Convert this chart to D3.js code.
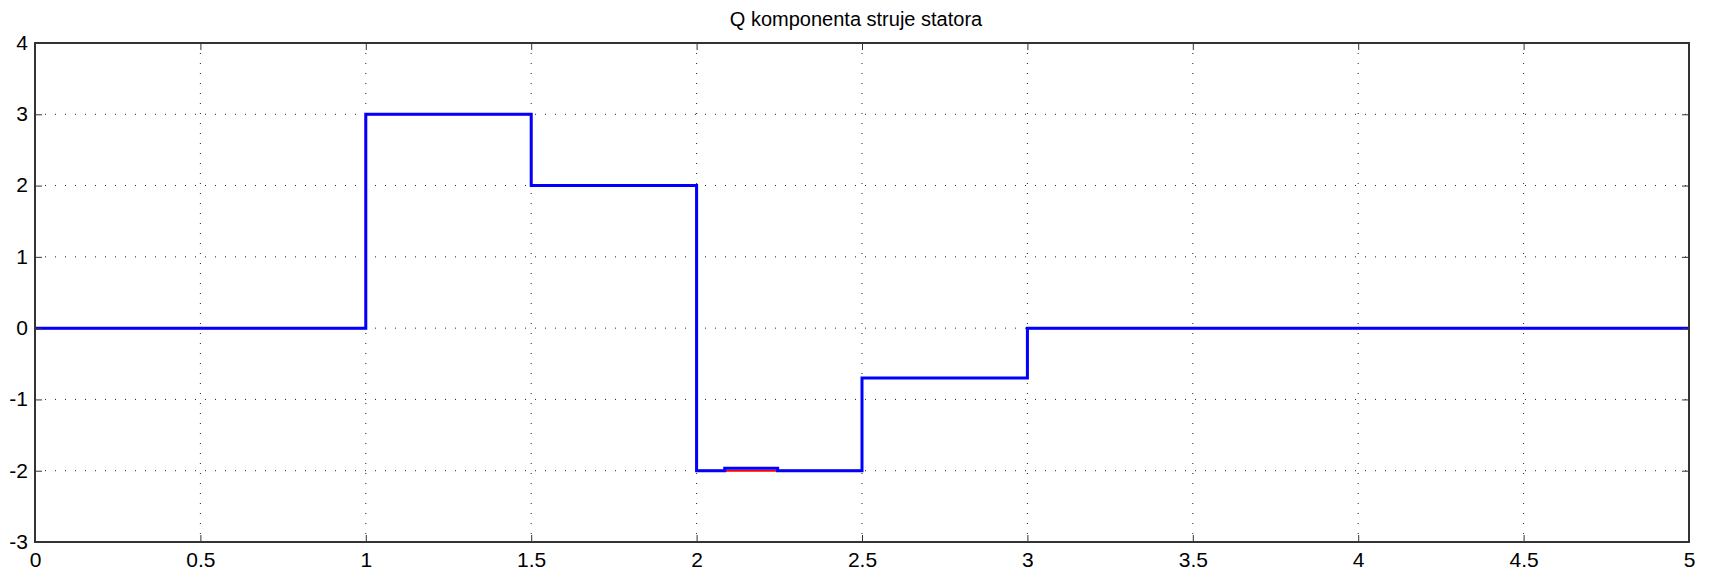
<!DOCTYPE html>
<html>
<head>
<meta charset="utf-8">
<script src="https://cdn.jsdelivr.net/npm/d3@7"></script>
<style>
  body { margin: 0; background: #fff; }
  text { font-family: "Liberation Sans", Arial, sans-serif; fill: #000; }
</style>
</head>
<body>
<div id="chart"></div>
<script>
// reference signal (red) and measured signal (blue), step-wise
var refTime = [0, 1, 1.5, 2, 2.5, 3, 5];
var refQ = [0, 3, 2, -2, -0.7, 0, 0];
var measTime = [0, 1, 1.5, 2, 2.085, 2.245, 2.5, 3, 5];
var measQ = [0, 3, 2, -2, -1.965, -2, -0.7, 0, 0];

var xTicks = [0, 0.5, 1, 1.5, 2, 2.5, 3, 3.5, 4, 4.5, 5];
var yTicks = [-3, -2, -1, 0, 1, 2, 3, 4];
var title = "Q komponenta struje statora";

var width = 1710, height = 573;
var plotL = 35, plotR = 1689, plotT = 43, plotB = 542;

var svg = d3.select("#chart").append("svg")
  .attr("width", width)
  .attr("height", height);

var x = d3.scaleLinear().domain([0, 5]).range([plotL, plotR]);
var y = d3.scaleLinear().domain([-3, 4]).range([plotB, plotT]);

// plain hyphen minus like matlab
function fmt(d) { return String(d); }

// dotted grid
svg.append("g").selectAll("line").data(xTicks.slice(1, -1)).enter().append("line")
  .attr("x1", function(d) { return x(d); })
  .attr("x2", function(d) { return x(d); })
  .attr("y1", plotT)
  .attr("y2", plotB)
  .attr("stroke", "#222")
  .attr("stroke-width", 1)
  .style("stroke-dasharray", "1, 9");

svg.append("g").selectAll("line").data(yTicks.slice(1, -1)).enter().append("line")
  .attr("x1", plotL)
  .attr("x2", plotR)
  .attr("y1", function(d) { return y(d); })
  .attr("y2", function(d) { return y(d); })
  .attr("stroke", "#222")
  .attr("stroke-width", 1)
  .style("stroke-dasharray", "1, 9");

// lines
var line = d3.line()
  .x(function(d) { return x(d[0]); })
  .y(function(d) { return y(d[1]); })
  .curve(d3.curveStepAfter);

svg.append("path")
  .datum(d3.zip(refTime, refQ))
  .attr("d", line)
  .attr("fill", "none")
  .attr("stroke", "#ff0000")
  .attr("stroke-width", 2);

svg.append("path")
  .datum(d3.zip(measTime, measQ))
  .attr("d", line)
  .attr("fill", "none")
  .attr("stroke", "#0000ff")
  .attr("stroke-width", 3);

// axes box with inward ticks
var xAxisB = d3.axisBottom(x).tickValues(xTicks).tickSizeInner(-7).tickSizeOuter(0).tickFormat(fmt);
var yAxisL = d3.axisLeft(y).tickValues(yTicks).tickSizeInner(-7).tickSizeOuter(0).tickFormat(fmt);

var gx = svg.append("g").attr("transform", "translate(0," + plotB + ")").call(xAxisB);
var gy = svg.append("g").attr("transform", "translate(" + plotL + ",0)").call(yAxisL);
svg.append("g").attr("transform", "translate(0," + plotT + ")")
  .call(d3.axisTop(x).tickValues(xTicks).tickSizeInner(-7).tickSizeOuter(0).tickFormat(""));
svg.append("g").attr("transform", "translate(" + plotR + ",0)")
  .call(d3.axisRight(y).tickValues(yTicks).tickSizeInner(-7).tickSizeOuter(0).tickFormat(""));

svg.selectAll(".domain").remove();
svg.selectAll(".tick line").attr("stroke", "#333").attr("stroke-width", 1);
gx.selectAll("text").style("font-size", "21px").attr("y", 10).attr("dy", "0.71em");
gy.selectAll("text").style("font-size", "21px").attr("x", -7).attr("dy", "0.3em");

svg.append("rect")
  .attr("x", plotL)
  .attr("y", plotT)
  .attr("width", plotR - plotL)
  .attr("height", plotB - plotT)
  .attr("fill", "none")
  .attr("stroke", "#333")
  .attr("stroke-width", 2);

svg.append("text")
  .attr("x", (plotL + plotR) / 2 - 6)
  .attr("y", 26)
  .attr("text-anchor", "middle")
  .style("font-size", "20px")
  .text(title);
</script>
</body>
</html>
